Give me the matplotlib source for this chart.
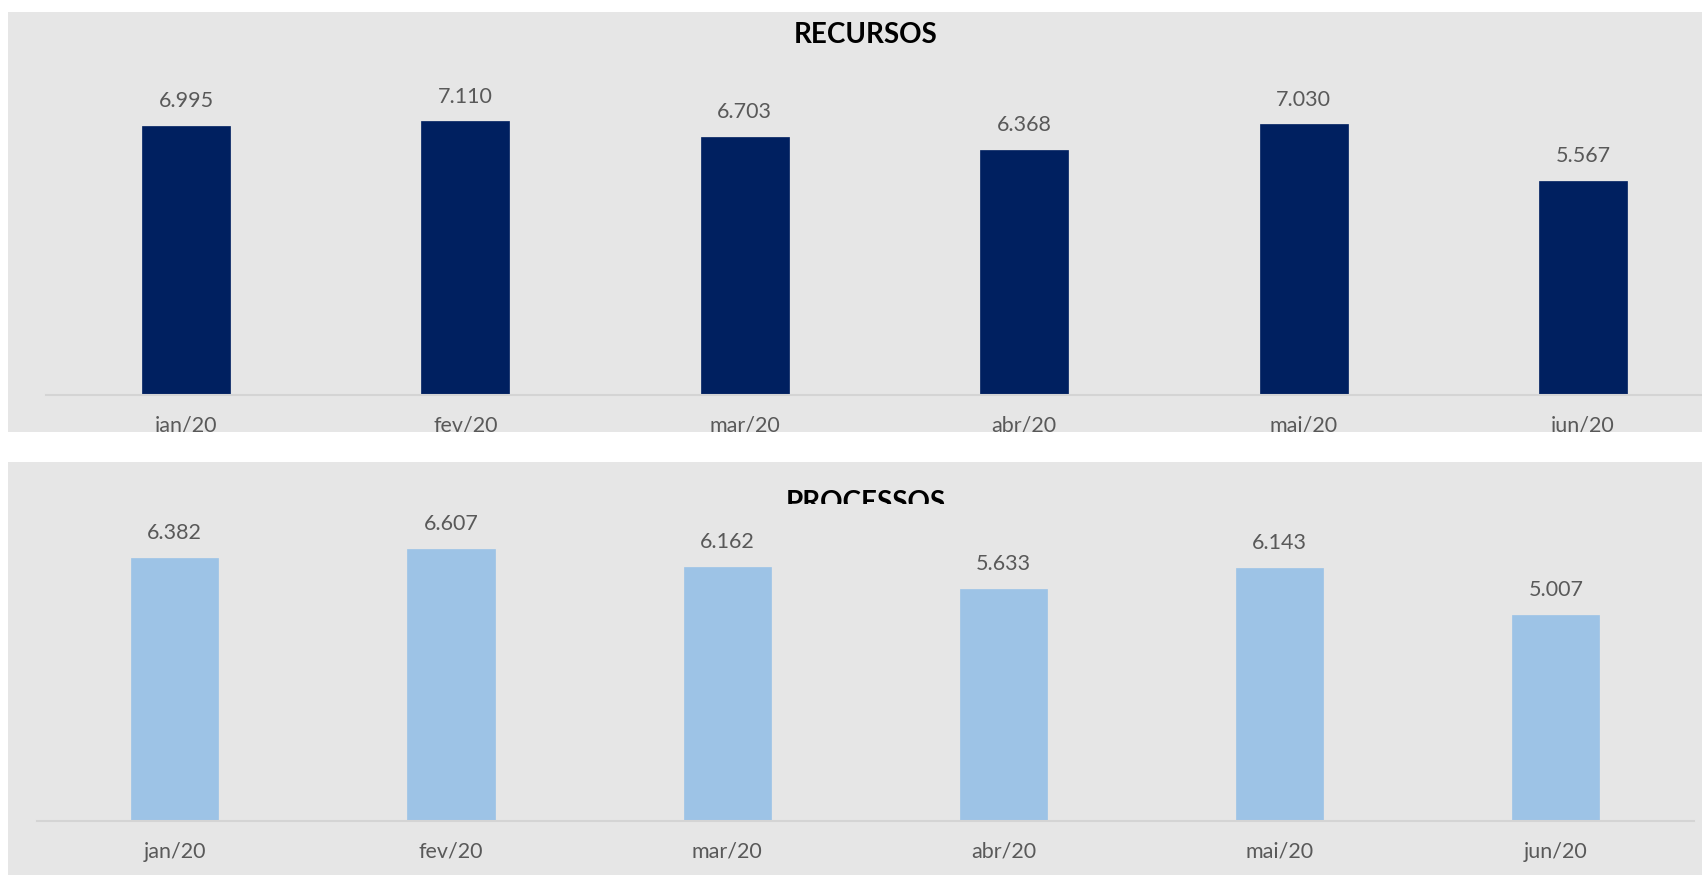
import matplotlib
matplotlib.use("Agg")
import matplotlib.pyplot as plt
from matplotlib.patches import Rectangle
from matplotlib.transforms import Bbox, TransformedBbox

meses = ["jan/20", "fev/20", "mar/20", "abr/20", "mai/20", "jun/20"]
recursos = [6995, 7110, 6703, 6368, 7030, 5567]
processos = [6382, 6607, 6162, 5633, 6143, 5007]

W, H = 1702, 875
BG = "#E6E6E6"
NAVY = "#002060"
LIGHT = "#9DC3E6"
TXT = "#595959"

plt.rcParams["font.family"] = ["Lato", "DejaVu Sans"]


def fx(px):
    return px / W


def fy(py):
    # pixel row from top -> figure fraction from bottom
    return 1 - py / H


def fmt(v):
    return f"{v:,}".replace(",", ".")


fig = plt.figure(figsize=(W / 100, H / 100), dpi=100)
fig.patch.set_facecolor("white")

# panel backgrounds
fig.add_artist(Rectangle((fx(8), fy(432)), fx(W), 420 / H, transform=fig.transFigure,
                         facecolor=BG, edgecolor="none", zorder=-5))
fig.add_artist(Rectangle((fx(8), fy(H)), fx(W), (H - 462) / H, transform=fig.transFigure,
                         facecolor=BG, edgecolor="none", zorder=-5))


def draw_chart(left, width, base, top, scale, values, color):
    ax = fig.add_axes([fx(left), fy(base), fx(width), (base - top) / H])
    ax.set_facecolor("none")
    x = list(range(len(values)))
    ax.bar(x, values, width=0.315, color=color, edgecolor=color, linewidth=0.5, zorder=2)
    ax.set_xlim(-0.5, len(values) - 0.5)
    ax.set_ylim(0, (base - top) / scale)
    for s in ["top", "left", "right"]:
        ax.spines[s].set_visible(False)
    ax.spines["bottom"].set_color("#D4D4D4")
    ax.spines["bottom"].set_linewidth(1.5)
    ax.set_xticks([])
    ax.set_yticks([])
    for i, v in enumerate(values):
        ax.annotate(fmt(v), (i, v), xytext=(0, 13.5), textcoords="offset points",
                    ha="center", va="baseline", fontsize=15.5, color=TXT)
        ax.annotate(meses[i], (i, 0), xycoords=("data", "axes fraction"),
                    xytext=(0, -26.5), textcoords="offset points",
                    ha="center", va="baseline", fontsize=15.5, color=TXT)
    return ax


# top chart: RECURSOS
draw_chart(46.3, 6 * 279.4, 395, 60, 0.0385, recursos, NAVY)
fig.text(fx(866), fy(43), "RECURSOS", ha="center", va="baseline",
         fontsize=20, fontweight="bold", color="black")

# bottom chart: PROCESSOS (title partly hidden behind the plot area)
draw_chart(36.7, 6 * 276.2, 821, 504, 0.0412, processos, LIGHT)
t = fig.text(fx(866), fy(511), "PROCESSOS", ha="center", va="baseline",
             fontsize=20, fontweight="bold", color="black")
t.set_clip_box(TransformedBbox(Bbox.from_extents(0, fy(504), 1, fy(463)), fig.transFigure))
t.set_clip_on(True)

# white gap between the two screenshots (cuts the top tick labels)
fig.add_artist(Rectangle((0, fy(462)), 1, 30 / H, transform=fig.transFigure,
                         facecolor="white", edgecolor="none", zorder=10))

fig.savefig("out.png", dpi=100, facecolor="white")
